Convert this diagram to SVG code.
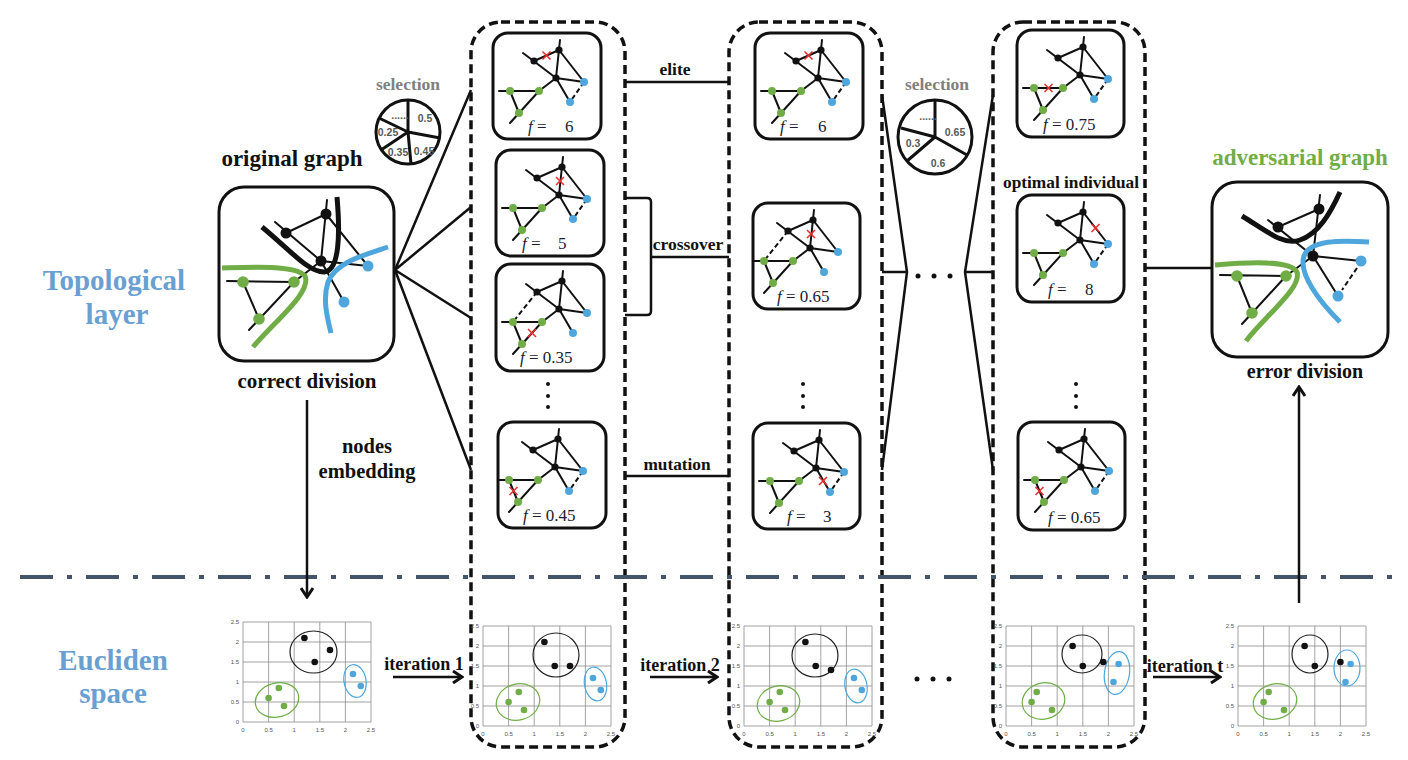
<svg xmlns="http://www.w3.org/2000/svg" xmlns:xlink="http://www.w3.org/1999/xlink" width="1408" height="760" viewBox="0 0 1408 760">
<style>
.lbl{font-family:"Liberation Serif","Times New Roman",serif;font-weight:bold;fill:#111;text-anchor:middle}
.side{font-family:"Liberation Serif","Times New Roman",serif;font-weight:bold;fill:#6a9fd2;font-size:29px;text-anchor:middle}
.sel{font-family:"Liberation Serif","Times New Roman",serif;font-weight:bold;fill:#808080;font-size:17.5px;text-anchor:middle}
.pie{font-family:"Liberation Sans",Arial,sans-serif;font-weight:bold;fill:#595959;font-size:10.5px;text-anchor:middle}
.fl{font-family:"Liberation Serif","Times New Roman",serif;font-size:17px;fill:#1c1c30}
.it{font-style:italic}
.card{fill:#fff;stroke:#111;stroke-width:3}
.col{fill:none;stroke:#111;stroke-width:3.5;stroke-dasharray:9 5}
.e{stroke:#111;stroke-width:2;fill:none;stroke-linecap:round}
.dash{stroke-dasharray:5 3;stroke-linecap:butt}
.bk{fill:#111}.gr{fill:#70ad47}.bl{fill:#4ea6dc}
.x{stroke:#e8312f;stroke-width:1.6;fill:none}
.con{stroke:#111;stroke-width:2.5;fill:none}
.ax{font-family:"Liberation Sans",Arial,sans-serif;font-size:6px;fill:#555}
.ek{fill:none;stroke:#222;stroke-width:1.2}
.eb{fill:none;stroke:#4ea6dc;stroke-width:1.2}
.eg{fill:none;stroke:#70ad47;stroke-width:1.2}
</style>
<defs>
<marker id="ah" viewBox="0 0 14 14" refX="12" refY="7" markerWidth="14" markerHeight="14" markerUnits="userSpaceOnUse" orient="auto"><path d="M3,1 L12,7 L3,13" fill="none" stroke="#111" stroke-width="3"/></marker>
<g id="E"><path class="e" d="M30,20 L63,45 M41,28 L66,17 M67,7 L63,45 M66,17 L91,49 M63,45 L91,49 M63,45 L77,69 M63,45 L46,58 M6,58 L46,58 M17,58 L26,80 M46,58 L17,90"/></g>
<g id="N"><circle class="bk" cx="41" cy="28" r="3.6"/><circle class="bk" cx="66" cy="17" r="3.6"/><circle class="bk" cx="63" cy="45" r="3.6"/><circle class="bl" cx="91" cy="49" r="4"/><circle class="bl" cx="77" cy="69" r="4"/><circle class="gr" cx="17" cy="58" r="4"/><circle class="gr" cx="46" cy="58" r="4"/><circle class="gr" cx="26" cy="80" r="4"/></g>
<path id="X" class="x" d="M-4,-4 L4,4 M-4,4 L4,-4"/>
<g id="grid">
<path d="M0,0H128V100H0Z M25.6,0V100 M51.2,0V100 M76.8,0V100 M102.4,0V100 M0,20H128 M0,40H128 M0,60H128 M0,80H128" fill="none" stroke="#8c8c8c" stroke-width="0.8"/>
<g class="ax" text-anchor="end"><text x="-4" y="2">2.5</text><text x="-4" y="22">2</text><text x="-4" y="42">1.5</text><text x="-4" y="62">1</text><text x="-4" y="82">0.5</text><text x="-4" y="102">0</text></g>
<g class="ax" text-anchor="middle"><text x="0" y="110">0</text><text x="25.6" y="110">0.5</text><text x="51.2" y="110">1</text><text x="76.8" y="110">1.5</text><text x="102.4" y="110">2</text><text x="128" y="110">2.5</text></g>
</g>
</defs>
<rect width="1408" height="760" fill="#fff"/>

<!-- side labels -->
<text class="side" x="114" y="290">Topological</text>
<text class="side" x="117" y="324">layer</text>
<text class="side" x="113" y="670">Eucliden</text>
<text class="side" x="113" y="703">space</text>

<!-- population columns -->
<g id="columns">
<rect class="col" x="471" y="22" width="154" height="725" rx="30"/>
<rect class="col" x="729" y="22" width="153" height="725" rx="30"/>
<rect class="col" x="993" y="22" width="152" height="725" rx="30"/>
</g>

<!-- separator -->
<path d="M20,577 H1400" stroke="#44546a" stroke-width="4" stroke-dasharray="33 14 5 14"/>

<!-- connectors -->
<g id="connectors">
<path class="con" d="M395,270 L471,90 M395,270 L471,207 M395,270 L471,318 M395,270 L471,470"/>
<path class="con" d="M625,82 L729,82"/>
<path class="con" stroke-width="3" d="M625,198 L647,198 Q651,198 651,202 L651,311 Q651,315 647,315 L625,315"/>
<path class="con" d="M651,257 L729,257"/>
<path class="con" stroke-width="3.5" d="M625,476 L729,476"/>
<path class="con" d="M882,95 L907,272 L882,470 M882,272 L907,272 M993,95 L965,272 L993,470 M965,272 L993,272"/>
<path class="con" d="M1145,268 L1212,268"/>
<path class="con" marker-end="url(#ah)" d="M307,400 L307,597"/>
<path class="con" marker-end="url(#ah)" d="M1299,603 L1299,387"/>
<path class="con" stroke-width="3.5" marker-end="url(#ah)" d="M393,677 L462,677"/>
<path class="con" stroke-width="3.5" marker-end="url(#ah)" d="M650,677 L717,677"/>
<path class="con" stroke-width="3.5" marker-end="url(#ah)" d="M1153,677 L1220,677"/>
</g>
<text class="lbl" font-size="17.5" x="675" y="75">elite</text>
<text class="lbl" font-size="17.5" x="688" y="250">crossover</text>
<text class="lbl" font-size="17.3" x="677" y="470">mutation</text>
<text class="lbl" font-size="20.5" x="367" y="453">nodes</text>
<text class="lbl" font-size="20.5" x="367" y="478">embedding</text>
<text class="lbl" font-size="18" x="424" y="670">iteration 1</text>
<text class="lbl" font-size="18" x="680" y="671">iteration 2</text>
<text class="lbl" font-size="18" x="1185" y="672">iteration t</text>

<!-- ellipsis dots -->
<g id="dots" fill="#111">
<circle cx="548" cy="384" r="2"/><circle cx="548" cy="396" r="2"/><circle cx="548" cy="407" r="2"/>
<circle cx="803" cy="384" r="2"/><circle cx="803" cy="396" r="2"/><circle cx="803" cy="407" r="2"/>
<circle cx="1076" cy="384" r="2"/><circle cx="1076" cy="396" r="2"/><circle cx="1076" cy="407" r="2"/>
<circle cx="918" cy="276" r="2.5"/><circle cx="934" cy="276" r="2.5"/><circle cx="950" cy="276" r="2.5"/>
<circle cx="917" cy="679" r="2.5"/><circle cx="933" cy="679" r="2.5"/><circle cx="949" cy="679" r="2.5"/>
</g>

<!-- original graph -->
<g id="original">
<text class="lbl" font-size="23" x="292" y="166">original graph</text>
<rect class="card" x="219" y="187" width="175" height="174" rx="25"/>
<path class="e" d="M275,222 L321,261 M286,233 L326,214 M327,200 L321,261 M326,214 L368,266 M321,261 L368,266 M321,261 L344,302 M321,261 L294,282 M227,281 L294,282 M243,282 L259,319 M294,282 L249,330"/>
<path d="M262,227 C290,250 308,272 324,272 C340,271 340,232 337,197" fill="none" stroke="#111" stroke-width="5"/>
<path d="M222,268 C255,267 296,265 305,276 C312,292 276,320 253,347" fill="none" stroke="#70ad47" stroke-width="5"/>
<path d="M388,247 C364,255 336,262 328,282 C322,300 328,320 331,333" fill="none" stroke="#4ea6dc" stroke-width="5"/>
<circle class="bk" cx="286" cy="233" r="5.5"/><circle class="bk" cx="326" cy="214" r="5.5"/><circle class="bk" cx="321" cy="261" r="5.5"/>
<circle class="bl" cx="368" cy="266" r="5.5"/><circle class="bl" cx="344" cy="302" r="5.5"/>
<circle class="gr" cx="243" cy="282" r="5.8"/><circle class="gr" cx="294" cy="282" r="5.8"/><circle class="gr" cx="259" cy="319" r="5.8"/>
<text class="lbl" font-size="21" x="307" y="388">correct division</text>
</g>

<!-- selection pies -->
<g id="pie1">
<text class="sel" x="408" y="90">selection</text>
<circle cx="408" cy="132" r="32" fill="#fff" stroke="#111" stroke-width="3"/>
<path d="M408,132 L408,100 M408,132 L379,118 M408,132 L381,150 M408,132 L411,164 M408,132 L440,138" stroke="#111" stroke-width="3" fill="none"/>
<text class="pie" x="400" y="119">......</text>
<text class="pie" x="425" y="122">0.5</text>
<text class="pie" x="388" y="136">0.25</text>
<text class="pie" x="398" y="156">0.35</text>
<text class="pie" x="424" y="155">0.45</text>
</g>
<g id="pie2">
<text class="sel" x="937" y="90">selection</text>
<circle cx="935" cy="137" r="37" fill="#fff" stroke="#111" stroke-width="3"/>
<path d="M935,137 L935,100 M935,137 L901,128 M935,137 L907,161 M935,137 L967,155" stroke="#111" stroke-width="3" fill="none"/>
<text class="pie" x="928" y="120">......</text>
<text class="pie" x="955" y="136">0.65</text>
<text class="pie" x="913" y="147">0.3</text>
<text class="pie" x="938" y="167">0.6</text>
</g>

<!-- column 1 cards -->
<g id="c1a" transform="translate(493,33)">
<rect class="card" width="108" height="106" rx="15"/>
<use xlink:href="#E"/><path class="e dash" d="M91,49 L77,69"/><use xlink:href="#N"/>
<use xlink:href="#X" x="53.5" y="22.5"/>
<text class="fl" x="35" y="99"><tspan class="it">f</tspan> = <tspan x="72">6</tspan></text>
</g>
<g id="c1b" transform="translate(496,150)">
<rect class="card" width="108" height="106" rx="15"/>
<use xlink:href="#E"/><path class="e dash" d="M91,49 L77,69"/><use xlink:href="#N"/>
<use xlink:href="#X" x="64" y="31"/>
<text class="fl" x="26" y="99"><tspan class="it">f</tspan> = <tspan x="62">5</tspan></text>
</g>
<g id="c1c" transform="translate(496,264)">
<rect class="card" width="108" height="107" rx="15"/>
<use xlink:href="#E"/><path class="e dash" d="M41,28 L17,58"/><use xlink:href="#N"/>
<use xlink:href="#X" x="36" y="69"/>
<text class="fl" x="24" y="99"><tspan class="it">f</tspan> = 0.35</text>
</g>
<g id="c1d" transform="translate(498,422)">
<rect class="card" width="108" height="106" rx="15"/>
<g transform="translate(-6,0)"><use xlink:href="#E"/><path class="e dash" d="M91,49 L77,69"/><use xlink:href="#N"/>
<use xlink:href="#X" x="21.5" y="69"/></g>
<text class="fl" x="25" y="99"><tspan class="it">f</tspan> = 0.45</text>
</g>

<!-- column 2 cards -->
<g id="c2a" transform="translate(755,33)">
<rect class="card" width="108" height="106" rx="15"/>
<use xlink:href="#E"/><path class="e dash" d="M91,49 L77,69"/><use xlink:href="#N"/>
<use xlink:href="#X" x="53.5" y="22.5"/>
<text class="fl" x="25" y="99"><tspan class="it">f</tspan> = <tspan x="63">6</tspan></text>
</g>
<g id="c2b" transform="translate(753,203)">
<rect class="card" width="107" height="106" rx="15"/>
<g transform="translate(-6,0)"><use xlink:href="#E"/><path class="e dash" d="M41,28 L17,58"/><use xlink:href="#N"/>
<use xlink:href="#X" x="64" y="31"/></g>
<text class="fl" x="24" y="99"><tspan class="it">f</tspan> = 0.65</text>
</g>
<g id="c2c" transform="translate(753,423)">
<rect class="card" width="107" height="106" rx="15"/>
<use xlink:href="#E"/><path class="e dash" d="M91,49 L77,69"/><use xlink:href="#N"/>
<use xlink:href="#X" x="70" y="58"/>
<text class="fl" x="34" y="99"><tspan class="it">f</tspan> = <tspan x="70">3</tspan></text>
</g>

<!-- column 3 cards -->
<text class="lbl" font-size="17.3" x="1071" y="188">optimal individual</text>
<g id="c3a" transform="translate(1017,30)">
<rect class="card" width="107" height="107" rx="15"/>
<use xlink:href="#E"/><path class="e dash" d="M91,49 L77,69"/><path class="e" stroke-width="3.5" d="M17,58 L31,58"/><use xlink:href="#N"/>
<use xlink:href="#X" x="31.5" y="58"/>
<text class="fl" x="26" y="100"><tspan class="it">f</tspan> = 0.75</text>
</g>
<g id="c3b" transform="translate(1017,195)">
<rect class="card" width="107" height="107" rx="15"/>
<use xlink:href="#E"/><path class="e dash" d="M91,49 L77,69"/><use xlink:href="#N"/>
<use xlink:href="#X" x="78.5" y="33"/>
<text class="fl" x="31" y="100"><tspan class="it">f</tspan> = <tspan x="68">8</tspan></text>
</g>
<g id="c3c" transform="translate(1018,422)">
<rect class="card" width="107" height="108" rx="15"/>
<use xlink:href="#E"/><path class="e dash" d="M91,49 L77,69"/><use xlink:href="#N"/>
<use xlink:href="#X" x="21.5" y="69"/>
<text class="fl" x="30" y="101"><tspan class="it">f</tspan> = 0.65</text>
</g>

<!-- adversarial graph -->
<g id="adversarial">
<text class="lbl" font-size="23" x="1300" y="165" style="fill:#70ad47">adversarial graph</text>
<rect class="card" x="1212" y="182" width="176" height="175" rx="25"/>
<path class="e" d="M1268,220 L1313,256 M1278,227 L1319,209 M1320,195 L1313,256 M1313,256 L1361,261 M1313,256 L1338,296 M1313,256 L1286,276 M1220,275 L1286,276 M1237,276 L1252,313 M1286,276 L1242,324"/>
<path class="e dash" d="M1357,268 L1342,290"/>
<path d="M1242,216 C1268,232 1284,246 1300,240 C1318,234 1330,214 1340,192" fill="none" stroke="#111" stroke-width="5"/>
<path d="M1369,242 C1340,240 1310,240 1304,256 C1298,274 1320,302 1340,322" fill="none" stroke="#4ea6dc" stroke-width="5"/>
<path d="M1215,265 C1250,262 1290,260 1297,272 C1302,288 1266,315 1246,341" fill="none" stroke="#70ad47" stroke-width="5"/>
<circle class="bk" cx="1278" cy="227" r="5.5"/><circle class="bk" cx="1319" cy="209" r="5.5"/><circle class="bk" cx="1313" cy="256" r="5.5"/>
<circle class="bl" cx="1361" cy="261" r="5.5"/><circle class="bl" cx="1338" cy="296" r="5.5"/>
<circle class="gr" cx="1237" cy="276" r="5.8"/><circle class="gr" cx="1286" cy="276" r="5.8"/><circle class="gr" cx="1252" cy="313" r="5.8"/>
<text class="lbl" font-size="20" x="1305" y="378">error division</text>
</g>

<!-- Euclidean plots -->
<g id="plot1" transform="translate(243,622)">
<use xlink:href="#grid"/>
<ellipse class="ek" cx="70.5" cy="30" rx="23.5" ry="21"/>
<ellipse class="eb" cx="112" cy="59" rx="11" ry="16.5" transform="rotate(-10 112 59)"/>
<ellipse class="eg" cx="34" cy="78" rx="22" ry="17" transform="rotate(-15 34 78)"/>
<g class="bk"><circle cx="61.4" cy="16" r="3.3"/><circle cx="87" cy="28" r="3.3"/><circle cx="71.7" cy="40" r="3.3"/></g>
<g class="bl"><circle cx="110" cy="52" r="3.3"/><circle cx="117.8" cy="64" r="3.3"/></g>
<g class="gr"><circle cx="25.6" cy="76" r="3.3"/><circle cx="35.8" cy="66" r="3.3"/><circle cx="41" cy="84" r="3.3"/></g>
</g>
<g id="plot2" transform="translate(483,626)">
<use xlink:href="#grid"/>
<ellipse class="ek" cx="73" cy="29" rx="23" ry="22"/>
<ellipse class="eb" cx="112.5" cy="58" rx="11" ry="17" transform="rotate(-10 112.5 58)"/>
<ellipse class="eg" cx="35" cy="76" rx="22" ry="18" transform="rotate(-15 35 76)"/>
<g class="bk"><circle cx="61.4" cy="16" r="3.3"/><circle cx="87" cy="40" r="3.3"/><circle cx="71.7" cy="40" r="3.3"/></g>
<g class="bl"><circle cx="110" cy="52" r="3.3"/><circle cx="117.8" cy="64" r="3.3"/></g>
<g class="gr"><circle cx="25.6" cy="76" r="3.3"/><circle cx="35.8" cy="66" r="3.3"/><circle cx="41" cy="84" r="3.3"/></g>
</g>
<g id="plot3" transform="translate(744,626)">
<use xlink:href="#grid"/>
<ellipse class="ek" cx="71" cy="29.5" rx="23" ry="21.5"/>
<ellipse class="eb" cx="112" cy="60" rx="11" ry="17" transform="rotate(-10 112 60)"/>
<ellipse class="eg" cx="34.5" cy="77.5" rx="21.5" ry="17.5" transform="rotate(-15 34.5 77.5)"/>
<g class="bk"><circle cx="61.4" cy="16" r="3.3"/><circle cx="87" cy="44" r="3.3"/><circle cx="71.7" cy="40" r="3.3"/></g>
<g class="bl"><circle cx="110" cy="52" r="3.3"/><circle cx="117.8" cy="64" r="3.3"/></g>
<g class="gr"><circle cx="25.6" cy="76" r="3.3"/><circle cx="35.8" cy="66" r="3.3"/><circle cx="41" cy="84" r="3.3"/></g>
</g>
<g id="plot4" transform="translate(1006,626)">
<use xlink:href="#grid"/>
<ellipse class="ek" cx="76" cy="28" rx="20" ry="19"/>
<ellipse class="eb" cx="111" cy="47" rx="12.5" ry="21.5" transform="rotate(8 111 47)"/>
<ellipse class="eg" cx="37.5" cy="75" rx="21.5" ry="18" transform="rotate(-15 37.5 75)"/>
<g class="bk"><circle cx="66.6" cy="20" r="3.3"/><circle cx="76.8" cy="40" r="3.3"/><circle cx="97.3" cy="36" r="3.3"/></g>
<g class="bl"><circle cx="112.6" cy="38" r="3.3"/><circle cx="107.5" cy="56" r="3.3"/></g>
<g class="gr"><circle cx="25.6" cy="76" r="3.3"/><circle cx="30.7" cy="66" r="3.3"/><circle cx="46" cy="84" r="3.3"/></g>
</g>
<g id="plot5" transform="translate(1238,626)">
<use xlink:href="#grid"/>
<ellipse class="ek" cx="72" cy="28" rx="18" ry="19"/>
<ellipse class="eb" cx="109" cy="42" rx="13" ry="18"/>
<ellipse class="eg" cx="37" cy="75.5" rx="22" ry="17.5" transform="rotate(-15 37 75.5)"/>
<g class="bk"><circle cx="66.6" cy="20" r="3.3"/><circle cx="76.8" cy="40" r="3.3"/><circle cx="102.4" cy="36" r="3.3"/></g>
<g class="bl"><circle cx="112.6" cy="38" r="3.3"/><circle cx="107.5" cy="56" r="3.3"/></g>
<g class="gr"><circle cx="25.6" cy="76" r="3.3"/><circle cx="30.7" cy="66" r="3.3"/><circle cx="46" cy="84" r="3.3"/></g>
</g>
</svg>
